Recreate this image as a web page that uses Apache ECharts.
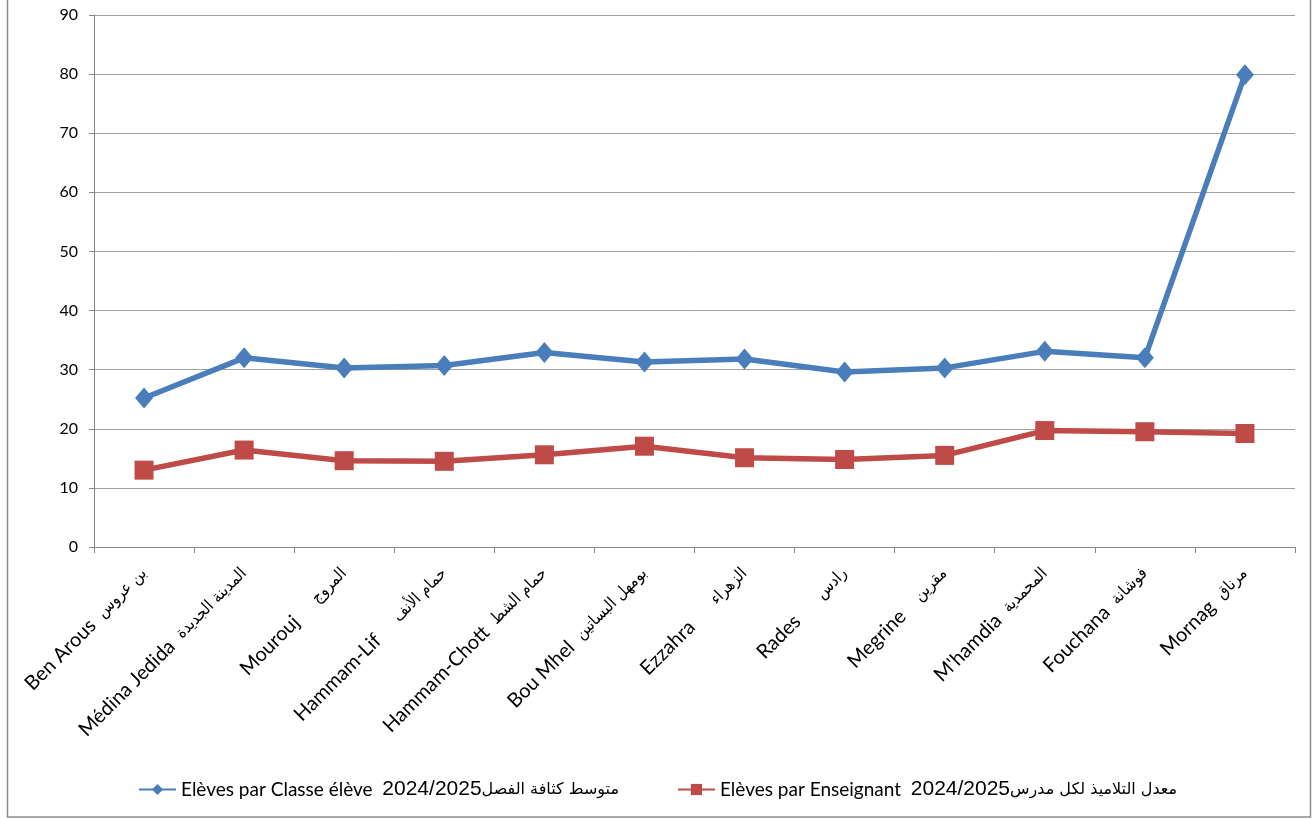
<!DOCTYPE html>
<html>
<head>
<meta charset="utf-8">
<script src="https://cdn.jsdelivr.net/npm/echarts@6/dist/echarts.min.js"></script>
<style>
html,body{margin:0;padding:0;background:#fff;}
#chart{width:1314px;height:820px;}
</style>
</head>
<body>
<div id="chart"></div>
<script>
const categoriesLatin = ["Ben Arous", "Médina Jedida", "Mourouj", "Hammam-Lif", "Hammam-Chott", "Bou Mhel",
  "Ezzahra", "Rades", "Megrine", "M'hamdia", "Fouchana", "Mornag"];
const categoriesArabic = ["بن عروس", "المدينة الجديدة", "المروج", "حمام الأنف", "حمام الشط", "بومهل البساتين",
  "الزهراء", "رادس", "مقرين", "المحمدية", "فوشانة", "مرناق"];
const categorySpacing = ["  ", "  ", "     ", "     ", "  ", "  ", "      ", "      ", "    ", "  ", "  ", "  "];
const categories = categoriesLatin.map((c, i) => c + categorySpacing[i] + categoriesArabic[i]);
const classeValues = [25.2, 32.0, 30.3, 30.7, 32.9, 31.3, 31.8, 29.6, 30.3, 33.1, 32.0, 79.9];
const enseignantValues = [13.0, 16.4, 14.6, 14.5, 15.6, 17.05, 15.1, 14.8, 15.5, 19.7, 19.5, 19.2];
const legendLatin = ["Elèves par Classe élève  ", "Elèves par Enseignant  "];
const legendYear = ["2024/2025", "2024/2025"];
const legendArabic = ["متوسط كثافة الفصل", "معدل التلاميذ لكل مدرس"];
const seriesNames = legendLatin.map((l, i) => l + legendYear[i] + legendArabic[i]);
const yTicks = {min: 0, max: 90, interval: 10};

const chart = echarts.init(document.getElementById('chart'));
const latinFont = "Lato, 'Open Sans', sans-serif";
const arFont = "'DejaVu Sans Condensed', 'DejaVu Sans', sans-serif";
chart.setOption({
  animation: false,
  backgroundColor: '#fff',
  textStyle: {fontFamily: latinFont},
  graphic: [{
    type: 'rect', silent: true, z: -1,
    shape: {x: 7.5, y: -5, width: 1303, height: 822},
    style: {fill: 'none', stroke: '#8c8c8c', lineWidth: 1.5}
  }],
  grid: {left: 94, right: 19, top: 15, bottom: 273, containLabel: false},
  legend: {
    top: 774,
    left: 133,
    itemGap: 58,
    itemWidth: 37,
    itemHeight: 14,
    data: seriesNames,
    formatter: function (name) {
      const i = seriesNames.indexOf(name);
      return '{a|' + legendLatin[i] + '}{b|' + legendYear[i] + '}{c|' + legendArabic[i] + '}';
    },
    textStyle: {
      color: '#000',
      rich: {
        a: {fontFamily: latinFont, fontSize: 19, color: '#000'},
        b: {fontFamily: "'Liberation Sans', Arial, sans-serif", fontSize: 21, color: '#000'},
        c: {fontFamily: "'DejaVu Sans', sans-serif", fontSize: 16, color: '#000'}
      }
    }
  },
  xAxis: {
    type: 'category',
    data: categories,
    boundaryGap: true,
    axisLine: {lineStyle: {color: '#868686', width: 1}},
    axisTick: {show: true, length: 6, lineStyle: {color: '#868686'}},
    axisLabel: {
      interval: 0, rotate: 45, color: '#000', margin: 24,
      formatter: function (v, idx) {
        return '{l|' + categoriesLatin[idx] + '}{s|' + categorySpacing[idx] + '}{r|' + categoriesArabic[idx] + '}';
      },
      rich: {
        l: {fontFamily: latinFont, fontSize: 20, color: '#000'},
        s: {fontFamily: latinFont, fontSize: 20},
        r: {fontFamily: arFont, fontSize: 16.5, color: '#000'}
      }
    }
  },
  yAxis: {
    type: 'value',
    min: yTicks.min, max: yTicks.max, interval: yTicks.interval,
    axisLine: {show: true, lineStyle: {color: '#868686'}},
    axisTick: {show: true, length: 5, lineStyle: {color: '#868686'}},
    splitLine: {lineStyle: {color: '#a0a0a0', width: 1}},
    axisLabel: {fontSize: 16, color: '#000', margin: 16, fontFamily: latinFont}
  },
  series: [
    {
      name: seriesNames[0], type: 'line', data: classeValues,
      symbol: 'diamond', symbolSize: [18, 21],
      lineStyle: {color: '#4A7EBB', width: 5.5},
      itemStyle: {color: '#4A7EBB'}
    },
    {
      name: seriesNames[1], type: 'line', data: enseignantValues,
      symbol: 'rect', symbolSize: 19,
      lineStyle: {color: '#BE4B48', width: 5.5},
      itemStyle: {color: '#BE4B48'}
    }
  ]
});
</script>
</body>
</html>
